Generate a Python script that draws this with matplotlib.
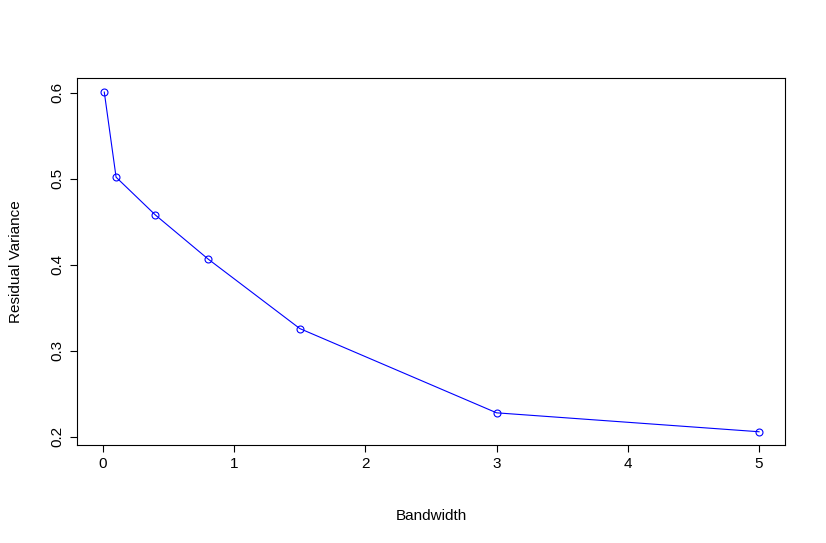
import matplotlib
matplotlib.use("Agg")
import matplotlib.pyplot as plt

# bandwidth vs residual variance
bandwidth = [0.01, 0.1, 0.4, 0.8, 1.5, 3, 5]
resid_var = [0.601, 0.502, 0.458, 0.407, 0.326, 0.228, 0.206]
xticks = [0, 1, 2, 3, 4, 5]
yticks = [0.2, 0.3, 0.4, 0.5, 0.6]

plt.rcParams['font.family'] = ['Liberation Sans', 'DejaVu Sans']

fig = plt.figure(figsize=(8.26, 5.43), dpi=100)
ax = fig.add_axes([0.0932, 0.1805, 0.8572, 0.6759])

ax.plot(bandwidth, resid_var, color="blue", linewidth=0.8,
        marker="o", markersize=5, markerfacecolor="none",
        markeredgecolor="blue", markeredgewidth=0.8)

ax.set_xlim(-0.198, 5.198)
ax.set_ylim(0.1906, 0.6174)
ax.set_xticks(xticks)
ax.set_xticklabels([str(t) for t in xticks])
ax.set_yticks(yticks)
ax.set_yticklabels([f"{t:.1f}" for t in yticks], rotation=90, va="center")

for s in ax.spines.values():
    s.set_linewidth(0.8)
ax.tick_params(direction="out", length=5, width=0.8, labelsize=11, pad=4)

ax.set_xlabel("Bandwidth", fontsize=11, labelpad=27)
ax.set_ylabel("Residual Variance", fontsize=11, labelpad=20)

fig.savefig("out.png", dpi=100)
